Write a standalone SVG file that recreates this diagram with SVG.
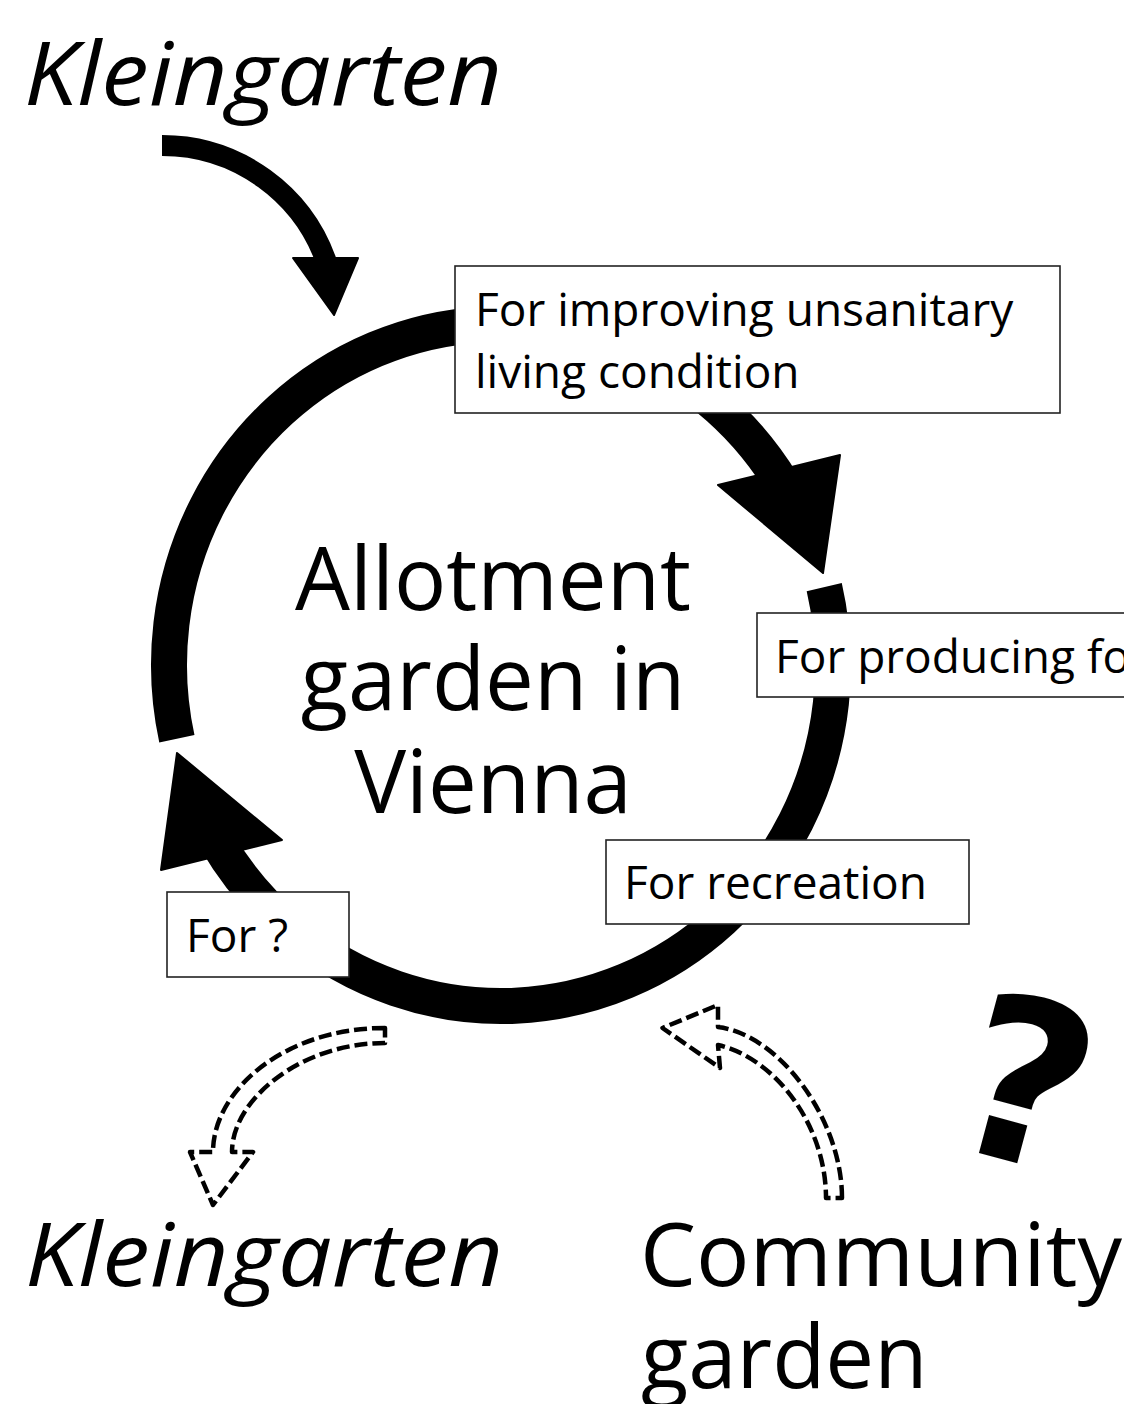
<svg xmlns="http://www.w3.org/2000/svg" width="1124" height="1404" viewBox="0 0 1124 1404">
  <style>
    .big { font-family: "Open Sans", "Noto Sans", "DejaVu Sans", sans-serif; font-size: 87px; fill: #000; }
    .ital { font-style: italic; }
    .lbl { font-family: "Open Sans", "Noto Sans", "DejaVu Sans", sans-serif; font-size: 46px; fill: #000; }
    .box { fill: #fff; stroke: #222; stroke-width: 1.6; }
    .arc { fill: none; stroke: #000; stroke-width: 36; }
    .head { fill: #000; stroke: #000; stroke-width: 2; stroke-linejoin: round; }
    .dash { fill: none; stroke: #000; stroke-width: 4.5; stroke-dasharray: 13 5; stroke-linejoin: round; }
  </style>
  <rect width="1124" height="1404" fill="#fff"/>

  <g id="connectors">
    <!-- top entry arrow -->
    <path d="M162,145.5 A174,174 0 0 1 327.5,265.2" fill="none" stroke="#000" stroke-width="21"/>
    <polygon class="head" points="293,258 358,258 334,315"/>
    <!-- cycle arc A (left, over top, to right) -->
    <path class="arc" d="M176.87,738.81 A332,341 0 0 1 782.55,484.30"/>
    <polygon class="head" points="718,485 840,455 823,573"/>
    <!-- cycle arc B (right, bottom, to left) -->
    <path class="arc" d="M824.23,587.13 A332,341 0 0 1 216.42,840.63"/>
    <polygon class="head" points="161,870 282,840 177,753"/>
    <!-- dashed outline arrow to Kleingarten -->
    <path class="dash" d="M385,1028 C285,1028 213,1090 213,1152 L190,1152 L213,1205 L253,1152 L232,1152 C232,1100 300,1043 385,1043 Z"/>
    <!-- dashed outline arrow from Community garden -->
    <path class="dash" d="M842,1198 C842,1120 780,1035 718,1027 L718,1005 L662.5,1028 L720,1068 L718,1045 C775,1058 826,1125 826,1198 Z"/>
  </g>

  <g id="center">
    <text class="big" x="493" y="610" text-anchor="middle">Allotment</text>
    <text class="big" x="493" y="710" text-anchor="middle">garden in</text>
    <text class="big" x="493" y="813" text-anchor="middle">Vienna</text>
  </g>

  <g id="kleingarten-top">
    <text class="big ital" x="24" y="105" textLength="478" lengthAdjust="spacingAndGlyphs">Kleingarten</text>
  </g>

  <g id="box-sanitary">
    <rect class="box" x="455" y="266" width="605" height="147"/>
    <text class="lbl" x="475" y="326">For improving unsanitary</text>
    <text class="lbl" x="475" y="388">living condition</text>
  </g>

  <g id="box-food">
    <rect class="box" x="757" y="613" width="420" height="84"/>
    <text class="lbl" x="775" y="673">For producing fo</text>
  </g>

  <g id="box-recreation">
    <rect class="box" x="606" y="840" width="363" height="84"/>
    <text class="lbl" x="624" y="899">For recreation</text>
  </g>

  <g id="box-unknown">
    <rect class="box" x="167" y="892" width="182" height="85"/>
    <text class="lbl" x="186" y="952">For ?</text>
  </g>

  <g id="kleingarten-bottom">
    <text class="big ital" x="25" y="1286" textLength="478" lengthAdjust="spacingAndGlyphs">Kleingarten</text>
  </g>

  <g id="community-garden">
    <text class="big" x="640" y="1286" textLength="482" lengthAdjust="spacingAndGlyphs">Community</text>
    <text class="big" x="641" y="1388">garden</text>
  </g>

  <g id="question">
    <text x="0" y="0" transform="translate(1005,1160) rotate(15)" text-anchor="middle" font-family="'DejaVu Sans', sans-serif" font-weight="bold" font-size="225" fill="#000">?</text>
  </g>
</svg>
